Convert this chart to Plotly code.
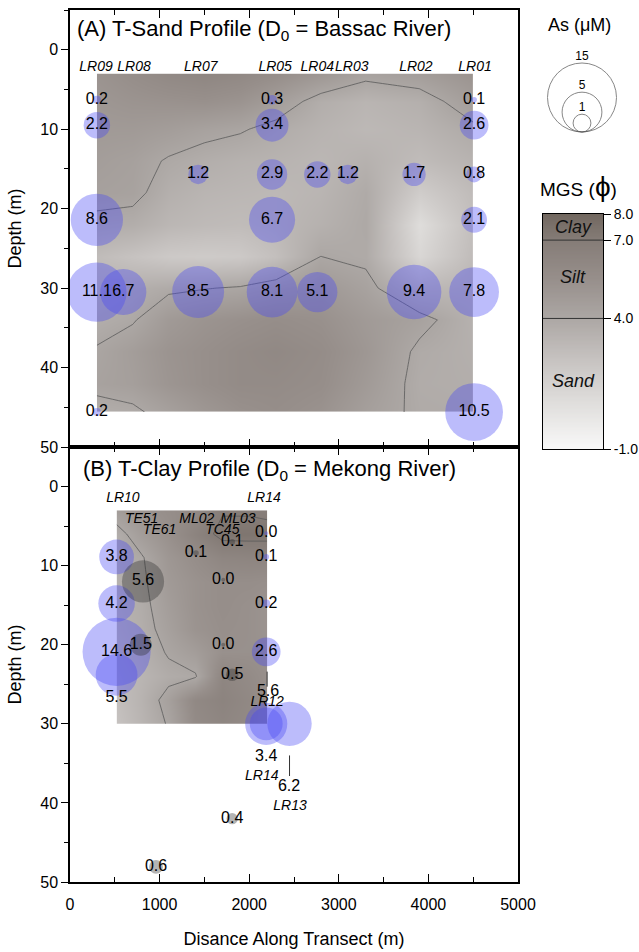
import numpy as np
import plotly.graph_objects as go

# ---------------- data ----------------
# Panel A: T-Sand profile, MGS (phi) grid estimated from the shading
xA_grid = [300, 700, 1100, 1500, 1900, 2300, 2800, 3300, 3900, 4500]
dA_grid = [3, 6.5, 10, 14, 18, 22, 26, 30, 34, 38, 42, 45.6]
phiA = [
    [5.2, 5.6, 6.0, 6.2, 6.0, 5.6, 5.0, 4.3, 4.6, 5.2],
    [5.0, 5.2, 5.3, 5.4, 5.2, 4.6, 3.6, 3.2, 3.5, 4.6],
    [4.8, 4.8, 4.6, 4.3, 4.1, 3.7, 3.3, 3.0, 3.2, 3.8],
    [4.6, 4.4, 3.9, 3.6, 3.4, 3.3, 3.1, 3.4, 2.8, 3.3],
    [4.4, 4.3, 3.5, 3.2, 3.1, 3.0, 3.2, 3.8, 1.8, 2.8],
    [3.7, 3.6, 3.1, 2.9, 2.8, 3.0, 3.4, 3.9, 0.8, 2.6],
    [2.8, 2.4, 2.0, 1.9, 2.0, 2.6, 4.0, 3.8, 1.2, 2.8],
    [3.2, 3.5, 3.8, 3.95, 4.1, 4.5, 4.9, 4.3, 3.0, 3.2],
    [3.6, 3.9, 4.8, 5.2, 5.4, 5.6, 5.4, 4.8, 4.3, 3.4],
    [4.1, 4.6, 5.2, 5.5, 5.8, 6.0, 5.7, 5.0, 3.8, 3.5],
    [4.3, 4.5, 5.1, 5.5, 5.8, 5.8, 5.6, 4.8, 3.7, 3.6],
    [3.6, 3.8, 4.4, 5.0, 5.4, 5.6, 5.3, 4.5, 3.8, 3.7],
]

# Panel B: T-Clay profile, MGS (phi) grid
xB_grid = [520, 800, 1100, 1400, 1700, 2000, 2200]
dB_grid = [3, 6, 9, 12, 15, 18, 21, 24, 27, 30]
phiB = [
    [4.6, 5.2, 5.6, 6.0, 6.9, 6.9, 6.8],
    [3.6, 4.6, 5.4, 6.4, 7.3, 7.3, 7.3],
    [3.5, 3.9, 5.0, 5.6, 6.2, 6.3, 6.3],
    [3.4, 3.8, 4.8, 5.3, 5.6, 5.6, 5.5],
    [3.3, 3.7, 4.6, 5.3, 5.6, 5.4, 5.2],
    [3.2, 3.6, 4.4, 5.2, 5.5, 5.4, 5.2],
    [3.0, 3.4, 4.1, 4.6, 5.4, 5.4, 5.3],
    [2.8, 3.2, 3.7, 3.9, 6.2, 5.8, 5.4],
    [2.6, 3.3, 4.4, 6.0, 6.4, 6.0, 5.5],
    [2.4, 3.2, 4.1, 5.8, 6.2, 5.9, 5.6],
]

# Panel A arsenic bubbles (blue)
a_x = [300, 300, 300, 300, 300, 595, 1430, 1430, 2255, 2255, 2255, 2255, 2255,
       2760, 2760, 3100, 3840, 3840, 4510, 4510, 4510, 4510, 4510, 4510]
a_depth = [6.3, 9.5, 21.4, 30.5, 45.6, 30.5, 15.7, 30.5, 6.3, 9.5, 15.7, 21.4, 30.5,
           15.7, 30.5, 15.7, 15.7, 30.5, 6.3, 9.5, 15.7, 21.4, 30.5, 45.6]
a_as = [0.2, 2.2, 8.6, 11.1, 0.2, 6.7, 1.2, 8.5, 0.3, 3.4, 2.9, 6.7, 8.1,
        2.2, 5.1, 1.2, 1.7, 9.4, 0.1, 2.6, 0.8, 2.1, 7.8, 10.5]

a_sites = ["LR09", "LR08", "LR07", "LR05", "LR04", "LR03", "LR02", "LR01"]
a_site_x = [290, 715, 1460, 2290, 2760, 3145, 3860, 4520]
a_site_depth = [2.2] * 8

# Panel B arsenic bubbles (blue, LR wells)
b_x = [520, 520, 520, 520, 2190, 2190, 2190, 2190, 2190, 2190, 2450]
b_depth = [8.9, 14.8, 20.9, 23.8, 5.9, 8.9, 14.8, 20.9, 30.0, 30.0, 30.0]
b_as = [3.8, 4.2, 14.6, 5.5, 0.0, 0.1, 0.2, 2.6, 5.6, 3.4, 6.2]
b_label_x = [520, 520, 520, 520, 2190, 2190, 2190, 2190, 2210, 2190, 2445]
b_label_depth = [8.9, 14.8, 20.9, 26.7, 5.9, 8.9, 14.8, 20.9, 26.0, 34.2, 38.0]

# Panel B arsenic bubbles (gray, other wells)
g_x = [815, 790, 1406, 1810, 1710, 1710, 1810, 1810, 960]
g_depth = [12.0, 20.0, 8.4, 7.0, 11.8, 20.0, 23.8, 42.0, 48.1]
g_as = [5.6, 1.5, 0.1, 0.1, 0.0, 0.0, 0.5, 0.4, 0.6]

b_sites = ["LR10", "LR14", "TE51", "TE61", "ML02", "ML03", "TC45", "LR12", "LR14", "LR13"]
b_site_x = [590, 2165, 800, 1000, 1415, 1875, 1700, 2200, 2140, 2455]
b_site_depth = [1.5, 1.5, 4.2, 5.5, 4.2, 4.2, 5.5, 27.3, 36.6, 40.4]

# leader lines (x, depth0, depth1)
leaders_x = [2450, 2200]
leaders_d0 = [34.0, 23.4]
leaders_d1 = [36.6, 25.3]

# legends
as_legend_vals = [15, 5, 1]
mgs_ticks = [-1, 4, 7, 8]
mgs_ticktext = ["-1.0", "4.0", "7.0", "8.0"]
mgs_classes = ["Clay", "Silt", "Sand"]
mgs_class_pos = [7.5, 5.6, 1.6]

x_ticks = [0, 1000, 2000, 3000, 4000, 5000]

# ---------------- style ----------------
FONT = "Arial, 'Liberation Sans', sans-serif"
SIZEREF = 0.0063
phi_stops = [-1, 1, 2.5, 4, 5.5, 7, 8]
phi_colors = ["#f8f8f8", "#dcdad8", "#c5c1bf", "#aca7a4", "#978f8b", "#857c77", "#71675f"]
cscale = [[(p + 1) / 9.0, c] for p, c in zip(phi_stops, phi_colors)]
BLUE = "rgba(70,70,245,0.52)"
GRAY = "rgba(40,40,40,0.5)"

W, H = 639, 952
ML, MR, MT, MB = 70, 4, 10, 70
PW = W - ML - MR
PH = H - MT - MB


def px_x(p):
    return (p - ML) / PW


def px_y(p):
    return (H - MB - p) / PH


split = px_y(447)
xdom = [0, px_x(518)]

fig = go.Figure()

# contour backgrounds
for xg, dg, zg, xa, ya in [(xA_grid, dA_grid, phiA, "x", "y"),
                           (xB_grid, dB_grid, phiB, "x2", "y2")]:
    fig.add_trace(go.Contour(
        x=xg, y=dg, z=zg, colorscale=cscale, zmin=-1, zmax=8, zauto=False,
        contours=dict(coloring="heatmap", start=4, end=7, size=3, showlines=True),
        line=dict(color="#5a5a5a", width=0.8, smoothing=0),
        showscale=False, hoverinfo="skip", xaxis=xa, yaxis=ya))


def bubble(x, y, v, color, xa, ya):
    return go.Scatter(
        x=x, y=y, mode="markers", xaxis=xa, yaxis=ya, hoverinfo="skip",
        marker=dict(size=np.maximum(np.array(v, dtype=float), 0.02), sizemode="area",
                    sizeref=SIZEREF, sizemin=2, color=color, line=dict(width=0)))


fig.add_trace(bubble(a_x, a_depth, a_as, BLUE, "x", "y"))
fig.add_trace(bubble(b_x, b_depth, b_as, BLUE, "x2", "y2"))
fig.add_trace(bubble(g_x, g_depth, g_as, GRAY, "x2", "y2"))

valfont = dict(family=FONT, size=16, color="black")
fig.add_trace(go.Scatter(x=a_x, y=a_depth, text=[f"{v:.1f}" for v in a_as], mode="text",
                         textposition="middle center", textfont=valfont, xaxis="x", yaxis="y",
                         hoverinfo="skip"))
fig.add_trace(go.Scatter(x=b_label_x, y=b_label_depth, text=[f"{v:.1f}" for v in b_as], mode="text",
                         textposition="middle center", textfont=valfont, xaxis="x2", yaxis="y2",
                         hoverinfo="skip"))
fig.add_trace(go.Scatter(x=g_x, y=g_depth, text=[f"{v:.1f}" for v in g_as], mode="text",
                         textposition="middle center", textfont=valfont, xaxis="x2", yaxis="y2",
                         hoverinfo="skip"))

sitefont = dict(family=FONT, size=14, color="black")
fig.add_trace(go.Scatter(x=a_site_x, y=a_site_depth, text=[f"<i>{s}</i>" for s in a_sites],
                         mode="text", textfont=sitefont, xaxis="x", yaxis="y", hoverinfo="skip"))
fig.add_trace(go.Scatter(x=b_site_x, y=b_site_depth, text=[f"<i>{s}</i>" for s in b_sites],
                         mode="text", textfont=sitefont, xaxis="x2", yaxis="y2", hoverinfo="skip"))

# As legend (pixel-scaled hidden axes)
leg_r = [np.sqrt(v / 2.0 / SIZEREF) for v in as_legend_vals]
base_y = 8
fig.add_trace(go.Scatter(
    x=[42] * 3, y=[base_y + r for r in leg_r], mode="markers", xaxis="x3", yaxis="y3",
    hoverinfo="skip",
    marker=dict(size=as_legend_vals, sizemode="area", sizeref=SIZEREF,
                color="rgba(0,0,0,0)", line=dict(color="#555", width=1))))
fig.add_trace(go.Scatter(
    x=[42] * 3, y=[base_y + 2 * r + 6 for r in leg_r], text=[str(v) for v in as_legend_vals],
    mode="text", textfont=dict(family=FONT, size=12, color="black"), xaxis="x3", yaxis="y3",
    hoverinfo="skip"))

# MGS legend bar
bar_y = np.round(np.arange(-1, 8.001, 0.05), 3)
fig.add_trace(go.Heatmap(
    x=[0], y=bar_y, z=[[v] for v in bar_y], colorscale=cscale, zmin=-1, zmax=8,
    showscale=False, xaxis="x4", yaxis="y4", hoverinfo="skip"))

axis_common = dict(showgrid=False, zeroline=False, showline=True, linecolor="black",
                   linewidth=1.5, tickcolor="black", automargin=False,
                   tickfont=dict(family=FONT, size=16, color="black"))

fig.update_layout(
    width=W, height=H, margin=dict(l=ML, r=MR, t=MT, b=MB, autoexpand=False),
    paper_bgcolor="white", plot_bgcolor="white", showlegend=False,
    font=dict(family=FONT, color="black"),
    xaxis=dict(domain=xdom, anchor="y", range=[0, 5000], tickvals=x_ticks, showticklabels=False,
               ticks="inside", ticklen=8, mirror="ticks",
               minor=dict(dtick=500, tick0=0, ticks="inside", ticklen=5, tickcolor="black"),
               **axis_common),
    yaxis=dict(domain=[split, 1], anchor="x", range=[50, -5], tick0=0, dtick=10,
               ticks="outside", ticklen=7, mirror=True,
               minor=dict(dtick=5, tick0=0, ticks="outside", ticklen=4, tickcolor="black"),
               title=dict(text="Depth (m)", font=dict(family=FONT, size=18), standoff=14),
               **axis_common),
    xaxis2=dict(domain=xdom, anchor="y2", range=[0, 5000], tickvals=x_ticks, tickformat="d",
                ticks="inside", ticklen=8, mirror="ticks", ticklabelstandoff=7,
                minor=dict(dtick=500, tick0=0, ticks="inside", ticklen=5, tickcolor="black"),
                title=dict(text="Disance Along Transect (m)", font=dict(family=FONT, size=18),
                           standoff=20),
                **axis_common),
    yaxis2=dict(domain=[0, split], anchor="x2", range=[50, -5], tick0=0, dtick=10,
                ticks="outside", ticklen=7, mirror=True,
                minor=dict(dtick=5, tick0=0, ticks="outside", ticklen=4, tickcolor="black"),
                title=dict(text="Depth (m)", font=dict(family=FONT, size=18), standoff=14),
                **axis_common),
    xaxis3=dict(domain=[px_x(540), px_x(625)], anchor="y3", range=[0, 85], visible=False),
    yaxis3=dict(domain=[px_y(140), px_y(40)], anchor="x3", range=[0, 100], visible=False),
    xaxis4=dict(domain=[px_x(543), px_x(603)], anchor="y4", range=[-0.5, 0.5],
                showticklabels=False, ticks="", showgrid=False, zeroline=False, automargin=False,
                showline=True, mirror=True, linecolor="black", linewidth=1),
    yaxis4=dict(domain=[px_y(449), px_y(214)], anchor="x4", range=[-1, 8], side="right",
                tickvals=mgs_ticks, ticktext=mgs_ticktext, ticks="outside", ticklen=7,
                tickcolor="black", showgrid=False, zeroline=False, showline=True, mirror=True,
                automargin=False, linecolor="black", linewidth=1,
                tickfont=dict(family=FONT, size=14, color="black")),
)

shapes = []
for lx, d0, d1 in zip(leaders_x, leaders_d0, leaders_d1):
    shapes.append(dict(type="line", xref="x2", yref="y2", x0=lx, x1=lx, y0=d0, y1=d1,
                       line=dict(color="#333", width=1)))
for t in [7, 4]:
    shapes.append(dict(type="line", xref="x4", yref="y4", x0=-0.5, x1=0.5, y0=t, y1=t,
                       line=dict(color="#333", width=1)))
fig.update_layout(shapes=shapes)

ann = [
    dict(text="(A) T-Sand Profile (D<sub>0</sub> = Bassac River)", xref="x domain", yref="y domain",
         x=0.012, y=0.955, xanchor="left", yanchor="middle", showarrow=False,
         font=dict(family=FONT, size=22, color="black")),
    dict(text="(B) T-Clay Profile (D<sub>0</sub> = Mekong River)", xref="x2 domain", yref="y2 domain",
         x=0.025, y=0.947, xanchor="left", yanchor="middle", showarrow=False,
         font=dict(family=FONT, size=22, color="black")),
    dict(text="As (μM)", xref="paper", yref="paper", x=px_x(579), y=px_y(25), showarrow=False,
         xanchor="center", yanchor="middle", font=dict(family=FONT, size=18, color="black")),
    dict(text="MGS (<span style='font-size:28px'>ϕ</span>)", xref="paper", yref="paper",
         x=px_x(578), y=px_y(186), showarrow=False, xanchor="center", yanchor="middle",
         font=dict(family=FONT, size=19, color="black")),
]
for name, pos in zip(mgs_classes, mgs_class_pos):
    ann.append(dict(text=f"<i>{name}</i>", xref="x4", yref="y4", x=0, y=pos, showarrow=False,
                    xanchor="center", yanchor="middle", font=dict(family=FONT, size=18, color="#111")))
fig.update_layout(annotations=ann)

# remove the default page margin so the 639x952 figure fills the window exactly
fig.write_html("out.html", config={"displayModeBar": False},
               post_script="document.body.style.margin='0';document.body.style.overflow='hidden';")
